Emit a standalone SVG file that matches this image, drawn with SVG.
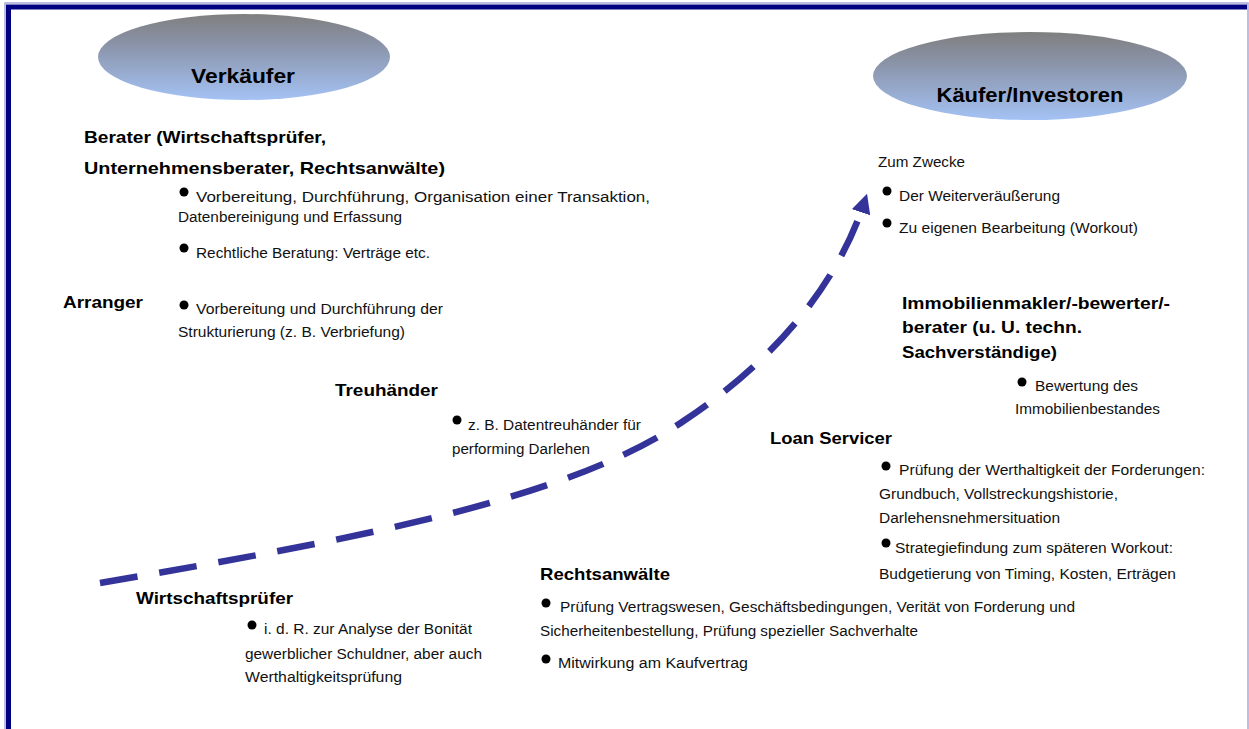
<svg xmlns="http://www.w3.org/2000/svg" width="1249" height="729" viewBox="0 0 1249 729">
<defs>
<linearGradient id="eg" x1="0" y1="0" x2="0" y2="1">
<stop offset="0" stop-color="#7f7f7f"/>
<stop offset="0.35" stop-color="#8a93a8"/>
<stop offset="1" stop-color="#a4c2f4"/>
</linearGradient>
<marker id="ah" markerWidth="3" markerHeight="3" refX="1.5" refY="1.5" orient="auto" markerUnits="strokeWidth">
<path d="M0,0 L3,1.5 L0,3 Z" fill="#333399"/>
</marker>
<style>
.h{font-family:"Liberation Sans",Arial,sans-serif;font-weight:bold;font-size:17px;fill:#000}
.t{font-family:"Liberation Sans",Arial,sans-serif;font-size:15.5px;fill:#111}
.e{font-family:"Liberation Sans",Arial,sans-serif;font-weight:bold;font-size:21px;fill:#000}
.b{fill:#000}
</style>
</defs>
<rect x="0" y="0" width="1249" height="729" fill="#fff"/>
<rect x="5" y="3" width="1243" height="740" fill="none" stroke="#a8a8d8" stroke-width="1.5"/>
<path d="M8.5,740 V7 H1247" fill="none" stroke="#000080" stroke-width="5"/>

<g id="connectors">
<path d="M100,583 C350,540 570,500 685,420 C790,350 842,270 864,203" fill="none" stroke="#333399" stroke-width="6.5" stroke-dasharray="38,22" marker-end="url(#ah)"/>
</g>

<g id="verkaeufer">
<ellipse cx="244" cy="57" rx="146" ry="43" fill="url(#eg)"/>
<text class="e" x="243" y="83" text-anchor="middle" textLength="104" lengthAdjust="spacingAndGlyphs">Verkäufer</text>
</g>

<g id="kaeufer">
<ellipse cx="1030" cy="76" rx="157" ry="44" fill="url(#eg)"/>
<text class="e" x="1030" y="102" text-anchor="middle" textLength="187" lengthAdjust="spacingAndGlyphs">Käufer/Investoren</text>
</g>

<g id="berater">
<text class="h" x="84" y="143" textLength="242" lengthAdjust="spacingAndGlyphs">Berater (Wirtschaftsprüfer,</text>
<text class="h" x="84" y="174" textLength="361" lengthAdjust="spacingAndGlyphs">Unternehmensberater, Rechtsanwälte)</text>
<circle class="b" cx="184" cy="192" r="4.5"/>
<text class="t" x="196" y="202" textLength="454" lengthAdjust="spacingAndGlyphs">Vorbereitung, Durchführung, Organisation einer Transaktion,</text>
<text class="t" x="178" y="222" textLength="224" lengthAdjust="spacingAndGlyphs">Datenbereinigung und Erfassung</text>
<circle class="b" cx="184" cy="248" r="4.5"/>
<text class="t" x="196" y="258" textLength="234" lengthAdjust="spacingAndGlyphs">Rechtliche Beratung: Verträge etc.</text>
</g>

<g id="arranger">
<text class="h" x="63" y="308" textLength="80" lengthAdjust="spacingAndGlyphs">Arranger</text>
<circle class="b" cx="184" cy="305" r="4.5"/>
<text class="t" x="196" y="314" textLength="247" lengthAdjust="spacingAndGlyphs">Vorbereitung und Durchführung der</text>
<text class="t" x="178" y="337" textLength="227" lengthAdjust="spacingAndGlyphs">Strukturierung (z. B. Verbriefung)</text>
</g>

<g id="treuhaender">
<text class="h" x="335" y="396" textLength="103" lengthAdjust="spacingAndGlyphs">Treuhänder</text>
<circle class="b" cx="457" cy="420" r="4.5"/>
<text class="t" x="468" y="430" textLength="173" lengthAdjust="spacingAndGlyphs">z. B. Datentreuhänder für</text>
<text class="t" x="452" y="454" textLength="138" lengthAdjust="spacingAndGlyphs">performing Darlehen</text>
</g>

<g id="wirtschaftspruefer">
<text class="h" x="136" y="604" textLength="157" lengthAdjust="spacingAndGlyphs">Wirtschaftsprüfer</text>
<circle class="b" cx="252" cy="625" r="4.5"/>
<text class="t" x="264" y="634" textLength="208" lengthAdjust="spacingAndGlyphs">i. d. R. zur Analyse der Bonität</text>
<text class="t" x="245" y="659" textLength="237" lengthAdjust="spacingAndGlyphs">gewerblicher Schuldner, aber auch</text>
<text class="t" x="245" y="682" textLength="157" lengthAdjust="spacingAndGlyphs">Werthaltigkeitsprüfung</text>
</g>

<g id="rechtsanwaelte">
<text class="h" x="540" y="580" textLength="130" lengthAdjust="spacingAndGlyphs">Rechtsanwälte</text>
<circle class="b" cx="546" cy="603" r="4.5"/>
<text class="t" x="560" y="612" textLength="515" lengthAdjust="spacingAndGlyphs">Prüfung Vertragswesen, Geschäftsbedingungen, Verität von Forderung und</text>
<text class="t" x="540" y="636" textLength="378" lengthAdjust="spacingAndGlyphs">Sicherheitenbestellung, Prüfung spezieller Sachverhalte</text>
<circle class="b" cx="546" cy="659" r="4.5"/>
<text class="t" x="558" y="668" textLength="190" lengthAdjust="spacingAndGlyphs">Mitwirkung am Kaufvertrag</text>
</g>

<g id="zwecke">
<text class="t" x="878" y="167" textLength="87" lengthAdjust="spacingAndGlyphs">Zum Zwecke</text>
<circle class="b" cx="887" cy="191" r="4.5"/>
<text class="t" x="899" y="201" textLength="161" lengthAdjust="spacingAndGlyphs">Der Weiterveräußerung</text>
<circle class="b" cx="887" cy="223" r="4.5"/>
<text class="t" x="899" y="233" textLength="239" lengthAdjust="spacingAndGlyphs">Zu eigenen Bearbeitung (Workout)</text>
</g>

<g id="immobilienmakler">
<text class="h" x="902" y="309" textLength="268" lengthAdjust="spacingAndGlyphs">Immobilienmakler/-bewerter/-</text>
<text class="h" x="902" y="333" textLength="180" lengthAdjust="spacingAndGlyphs">berater (u. U. techn.</text>
<text class="h" x="902" y="358" textLength="155" lengthAdjust="spacingAndGlyphs">Sachverständige)</text>
<circle class="b" cx="1022" cy="382" r="4.5"/>
<text class="t" x="1035" y="391" textLength="103" lengthAdjust="spacingAndGlyphs">Bewertung des</text>
<text class="t" x="1015" y="414" textLength="145" lengthAdjust="spacingAndGlyphs">Immobilienbestandes</text>
</g>

<g id="loanservicer">
<text class="h" x="770" y="444" textLength="122" lengthAdjust="spacingAndGlyphs">Loan Servicer</text>
<circle class="b" cx="886" cy="466" r="4.5"/>
<text class="t" x="899" y="475" textLength="306" lengthAdjust="spacingAndGlyphs">Prüfung der Werthaltigkeit der Forderungen:</text>
<text class="t" x="879" y="499" textLength="239" lengthAdjust="spacingAndGlyphs">Grundbuch, Vollstreckungshistorie,</text>
<text class="t" x="879" y="523" textLength="181" lengthAdjust="spacingAndGlyphs">Darlehensnehmersituation</text>
<circle class="b" cx="886" cy="543" r="4.5"/>
<text class="t" x="895" y="553" textLength="278" lengthAdjust="spacingAndGlyphs">Strategiefindung zum späteren Workout:</text>
<text class="t" x="879" y="579" textLength="297" lengthAdjust="spacingAndGlyphs">Budgetierung von Timing, Kosten, Erträgen</text>
</g>
</svg>
